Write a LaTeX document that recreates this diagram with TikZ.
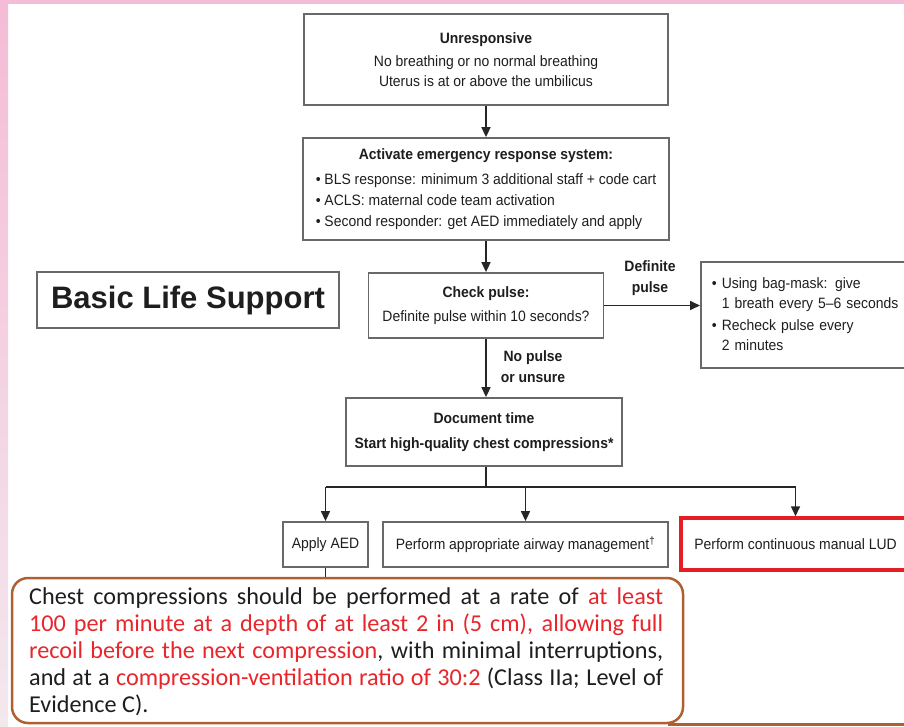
\documentclass[tikz,border=0pt]{standalone}
\usepackage{fontspec}
\setmainfont{Liberation Sans}
\newfontfamily\nar[FakeStretch=0.93]{Liberation Sans}
\newfontfamily\calib{Carlito}
\usetikzlibrary{arrows.meta}
\definecolor{boxgray}{RGB}{105,105,105}
\definecolor{lud}{RGB}{228,30,36}
\definecolor{brownline}{RGB}{176,96,48}
\definecolor{pinkband}{RGB}{244,188,214}
\definecolor{pinklight}{RGB}{243,232,238}
\definecolor{redtext}{RGB}{232,38,44}
\definecolor{txt}{RGB}{30,30,30}
\begin{document}
\begin{tikzpicture}[x=1pt,y=-1pt,
 box/.style={draw=boxgray, line width=1.8pt, fill=white, inner sep=0pt, align=center,
   font=\nar\fontsize{15}{20}\selectfont, text=txt},
 arr/.style={draw=black!85, line width=1.6pt, -{Triangle[length=10pt,width=9pt]}},
 conn/.style={draw=black!85, line width=1.6pt},
 lbl/.style={font=\nar\bfseries\fontsize{15}{21}\selectfont, align=center, text=txt, inner sep=0pt},
 cline/.style={anchor=base west, inner sep=0pt, font=\calib\fontsize{24.2}{27}\selectfont, text=txt}
]
\useasboundingbox (0,0) rectangle (904,726);
\clip (0,0) rectangle (904,726);
\fill[white] (0,0) rectangle (904,726);
\shade[top color=pinkband, bottom color=pinklight] (0,0) rectangle (8,726);
\fill[pinkband] (0,0) rectangle (904,4);

% boxes
\node[box, minimum width=364pt, minimum height=91pt] (b1) at (486,59.5)
  {{\bfseries Unresponsive}\\[3pt] No breathing or no normal breathing\\ Uterus is at or above the umbilicus};
\node[box, minimum width=366pt, minimum height=102pt] (b2) at (486,189)
  {\fontsize{15}{21}\selectfont\begin{tabular}{@{}l@{}}
   \multicolumn{1}{@{}c@{}}{\bfseries Activate emergency response system:}\\[4pt]
   • BLS response: minimum 3 additional staff + code cart\\
   • ACLS: maternal code team activation\\
   • Second responder: get AED immediately and apply
   \end{tabular}};
\node[box, minimum width=302pt, minimum height=56pt, font=\bfseries\fontsize{31}{36}\selectfont] (bls) at (188,300)
  {Basic Life Support};
\node[box, minimum width=235pt, minimum height=65pt] (b3) at (486,305.5)
  {{\bfseries Check pulse:}\\[4pt] Definite pulse within 10 seconds?};
\node[box, anchor=west, minimum height=106pt, inner xsep=11pt, text width=190pt, align=left] (b4) at (700,315)
  {\fontsize{15}{20}\selectfont\begin{tabular}{@{}l@{ }l@{}}
   •& Using bag-mask: give\\
    & 1 breath every 5–6 seconds\\[2pt]
   •& Recheck pulse every\\
    & 2 minutes
   \end{tabular}};
\node[box, minimum width=276pt, minimum height=68pt, font=\nar\bfseries\fontsize{15}{20}\selectfont] (b5) at (484,432)
  {Document time\\[5pt] Start high-quality chest compressions*};
\node[box, minimum width=85pt, minimum height=45pt] (b6) at (325.5,544.5) {Apply AED};
\node[box, minimum width=285pt, minimum height=45pt] (b7) at (525.5,544.5)
  {Perform appropriate airway management\textsuperscript{†}};
\node[box, draw=lud, line width=3.5pt, minimum width=229pt, minimum height=52pt] (b8) at (795.5,544)
  {Perform continuous manual LUD};

% connectors
\draw[arr] (b1.south) -- (b2.north);
\draw[arr] (b2.south) -- (b3.north);
\draw[arr] (b3.east) -- (b3.east -| b4.west);
\node[lbl] (lp) at (650,278) {Definite\\pulse};
\draw[arr] (b3.south) -- (b3.south |- b5.north);
\node[lbl] (ln) at (533,367) {No pulse\\or unsure};
\coordinate (split) at (486,487);
\draw[conn] (b3.south |- b5.south) -- (split);
\draw[conn] (b6.north |- split) -- (b8.north |- split);
\draw[arr] (b6.north |- split) -- (b6.north);
\draw[arr] (b7.north |- split) -- (b7.north);
\draw[arr] (b8.north |- split) -- (b8.north);

% callout
\node[draw=brownline, line width=2.5pt, rounded corners=16pt, fill=white,
  minimum width=671pt, minimum height=145pt, inner sep=0pt] (co) at (347.5,650.5) {};
\draw[conn] (b6.south) -- (b6.south |- co.north);
\draw[draw=brownline, line width=2.5pt] ([xshift=-16pt]co.south east) -- ++(260,0);

\node[cline] (t1) at (29,604) {\makebox[634pt][s]{Chest compressions should be performed at a rate of \textcolor{redtext}{at least}}};
\node[cline] (t2) at (29,631) {\makebox[634pt][s]{\textcolor{redtext}{100 per minute at a depth of at least 2 in (5 cm), allowing full}}};
\node[cline] (t3) at (29,658) {\makebox[634pt][s]{\textcolor{redtext}{recoil before the next compression}, with minimal interruptions,}};
\node[cline] (t4) at (29,685) {\makebox[634pt][s]{and at a \textcolor{redtext}{compression-ventilation ratio of 30:2} (Class IIa; Level of}};
\node[cline] (t5) at (29,712) {Evidence C).};
\end{tikzpicture}
\end{document}
